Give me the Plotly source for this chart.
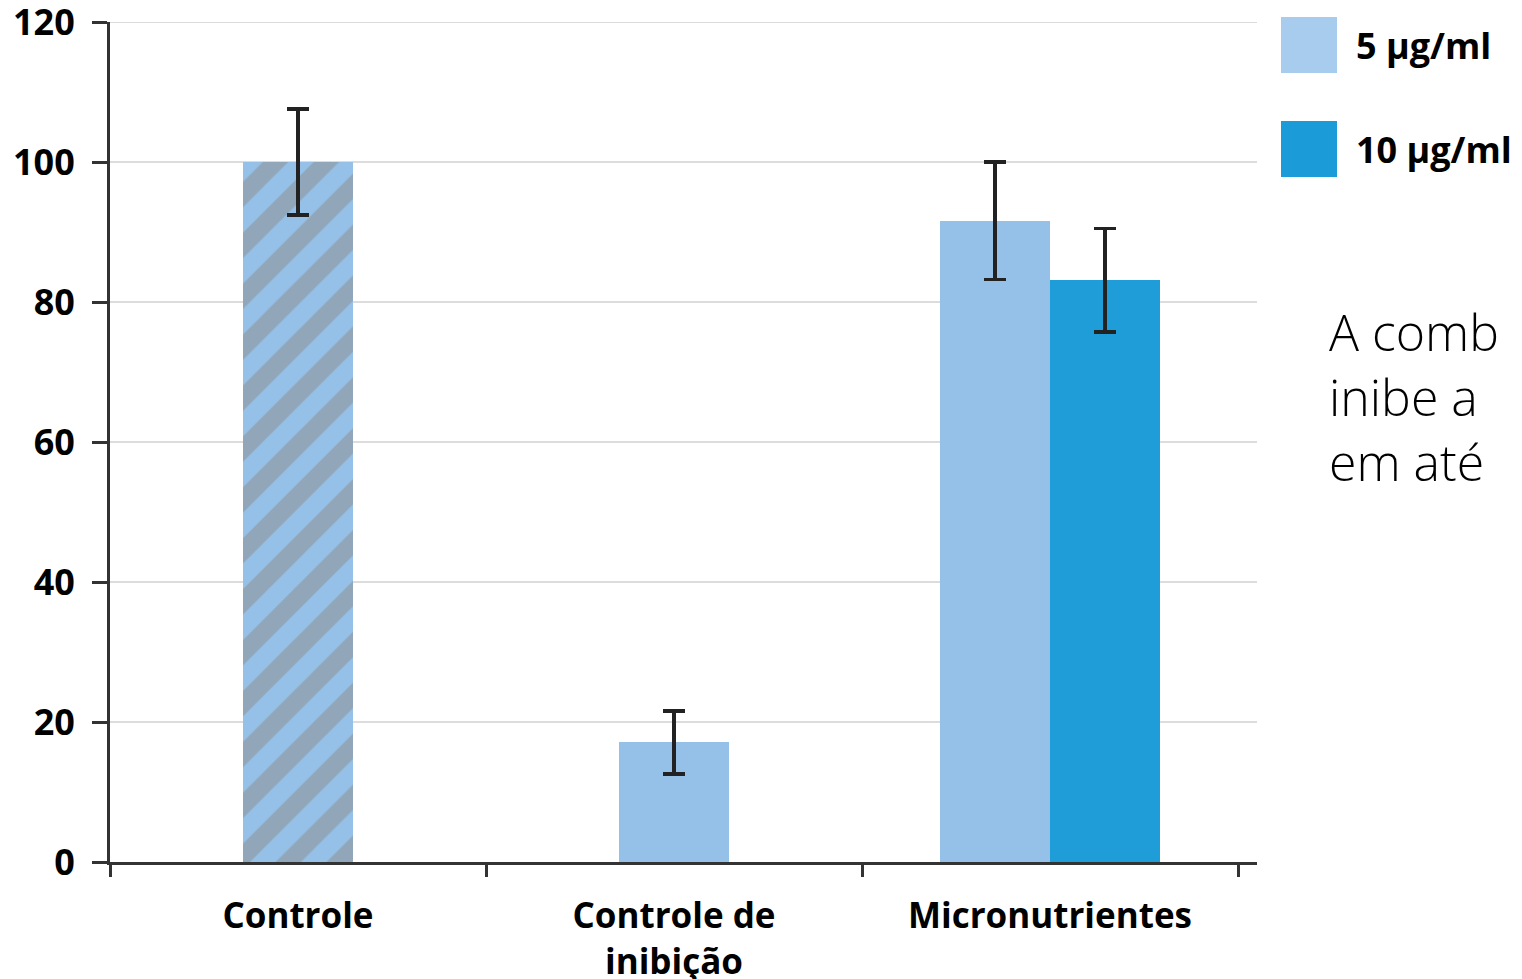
import plotly.graph_objects as go

categories = ["Controle", "Controle de inibição", "Micronutrientes"]
tick_labels = ["Controle", "Controle de<br>inibição", "Micronutrientes"]
control_values = [100.0]
control_err = [7.6]
inhib_values = [17.1]
inhib_err = [4.5]
series_names = ["5 µg/ml", "10 µg/ml"]
micro_values = [91.6, 83.1]
micro_err = [8.4, 7.4]
y_ticks = [0, 20, 40, 60, 80, 100, 120]
side_text = ["A comb", "inibe a", "em até"]

LIGHT = "#95C1E8"
DARK = "#1E9DD8"
BAR_W = 0.293
FONT = "Open Sans"
OFF = 8  # the page places the figure 8px from the window's top-left corner

err_style = dict(type="data", visible=True, color="#222222", thickness=3.5, width=11)

fig = go.Figure()
fig.add_trace(go.Bar(
    x=[categories[0]], y=control_values, width=BAR_W,
    marker=dict(color=LIGHT, line=dict(width=0),
                pattern=dict(shape="/", fgcolor="#92A6BA", bgcolor=LIGHT, size=36,
                             solidity=0.5, fgopacity=1)),
    error_y=dict(array=control_err, **err_style), showlegend=False))
fig.add_trace(go.Bar(
    x=[categories[1]], y=inhib_values, width=BAR_W,
    marker=dict(color=LIGHT, line=dict(width=0)),
    error_y=dict(array=inhib_err, **err_style), showlegend=False))
fig.add_trace(go.Bar(
    x=[categories[2]], y=[micro_values[0]], width=BAR_W, offset=-BAR_W,
    marker=dict(color=LIGHT, line=dict(width=0)), name=series_names[0],
    error_y=dict(array=[micro_err[0]], **err_style), showlegend=False))
fig.add_trace(go.Bar(
    x=[categories[2]], y=[micro_values[1]], width=BAR_W, offset=0,
    marker=dict(color=DARK, line=dict(width=0)), name=series_names[1],
    error_y=dict(array=[micro_err[1]], **err_style), showlegend=False))

W, H = 1522, 979
L, T = 110 - OFF, 22 - OFF
R = W - (1257 - OFF)
B = H - (862 - OFF)
pw, ph = W - L - R, H - T - B

def px(x):
    return (x - OFF - L) / pw

def py(y):
    return (H - B - (y - OFF)) / ph

shapes = [dict(type="line", xref="paper", yref="y", x0=0, x1=1, y0=y_ticks[-1], y1=y_ticks[-1],
               line=dict(color="#DCDCDC", width=2), layer="below")]
annotations = []
legend_colors = ["#A8CCEE", "#1C9BD9"]
legend_top = [17, 121]
for name, col, top in zip(series_names, legend_colors, legend_top):
    shapes.append(dict(type="rect", xref="paper", yref="paper",
                       x0=px(1281), x1=px(1337), y0=py(top + 56), y1=py(top),
                       fillcolor=col, line=dict(width=0)))
    annotations.append(dict(xref="paper", yref="paper", x=px(1354), y=py(top + 28),
                            xanchor="left", yanchor="middle", showarrow=False,
                            text="<b>%s</b>" % name,
                            font=dict(family=FONT, size=36, color="#000000")))

annotations.append(dict(xref="paper", yref="paper", x=px(1327), y=py(296),
                        xanchor="left", yanchor="top", align="left", showarrow=False,
                        text="<br>".join(side_text),
                        font=dict(family=FONT, size=50, color="#000000", weight=300)))

fig.update_layout(
    width=W, height=H,
    margin=dict(l=L, r=R, t=T, b=B, pad=0, autoexpand=False),
    paper_bgcolor="white", plot_bgcolor="white",
    barmode="overlay", bargap=0,
    shapes=shapes, annotations=annotations,
    font=dict(family=FONT, color="#000000"),
    xaxis=dict(
        type="category", categoryorder="array", categoryarray=categories,
        range=[-0.5, 2.5 + 19 / 376], automargin=False,
        tickmode="array", tickvals=categories,
        ticktext=["<b>%s</b>" % t for t in tick_labels],
        tickson="boundaries", ticks="outside", ticklen=12, tickwidth=3, tickcolor="#333333",
        ticklabelstandoff=21,
        showline=True, linecolor="#333333", linewidth=3,
        showgrid=False, zeroline=False,
        tickfont=dict(family=FONT, size=35, color="#000000"),
    ),
    yaxis=dict(
        range=[0, 120], automargin=False, tickmode="array", tickvals=y_ticks,
        ticktext=["<b>%d</b>" % v for v in y_ticks],
        ticks="outside", ticklen=15, tickwidth=3, tickcolor="#333333",
        ticklabelstandoff=10, ticklabeloverflow="allow",
        showline=True, linecolor="#333333", linewidth=3,
        showgrid=True, gridcolor="#DCDCDC", gridwidth=2, zeroline=False,
        tickfont=dict(family=FONT, size=36, color="#000000"),
    ),
)

fig.write_html("out.html")
